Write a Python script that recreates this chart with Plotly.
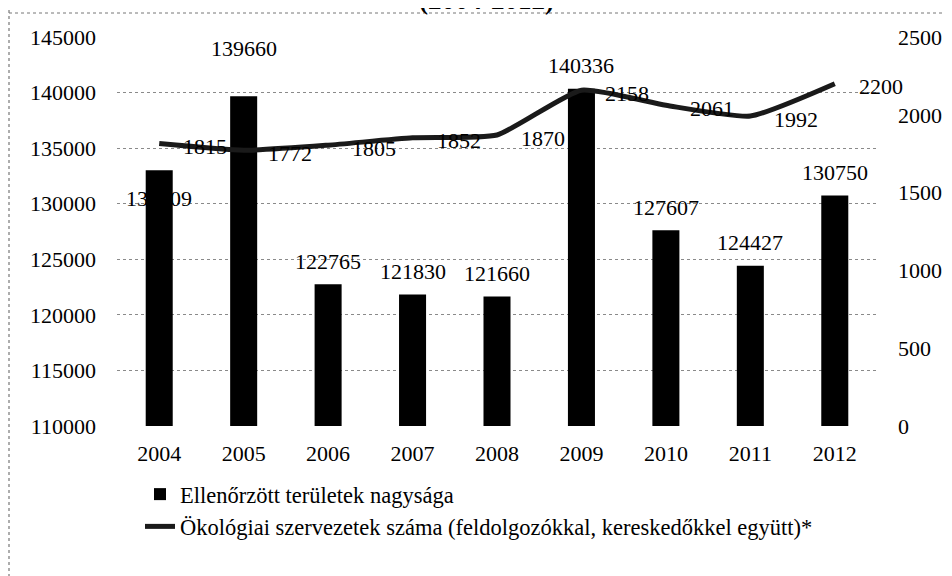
import plotly.graph_objects as go

years = ["2004", "2005", "2006", "2007", "2008", "2009", "2010", "2011", "2012"]
area_ha = [133009, 139660, 122765, 121830, 121660, 140336, 127607, 124427, 130750]
org_count = [1815, 1772, 1805, 1852, 1870, 2158, 2061, 1992, 2200]

bar_name = "Ellenőrzött területek nagysága"
line_name = "Ökológiai szervezetek száma (feldolgozókkal, kereskedőkkel együtt)*"
title_text = "(2004-2012)"

FONT = "Liberation Serif, Times New Roman, serif"
FS = 22

# figure geometry (page has an 8px body margin, so the figure is 944x568)
W, H = 944, 568
L, R, T, B = 109, 75, 29, 150
PW, PH = W - L - R, H - T - B


def pxx(x):  # figure pixel x -> paper
    return (x - L) / PW


def pxy(y):  # figure pixel y -> paper
    return (H - B - y) / PH


# pixel offsets of bar value labels (style)
bar_label_shift = {"2004": -28, "2005": 48}

fig = go.Figure()
fig.add_trace(go.Bar(
    x=years, y=area_ha, name=bar_name,
    marker=dict(color="#000000", line=dict(width=0)),
    yaxis="y",
))
fig.add_trace(go.Scatter(
    x=years, y=org_count, name=line_name, mode="lines",
    line=dict(color="#1a1a1a", width=5, shape="spline", smoothing=0.5),
    yaxis="y2",
))

annotations = []
for i, (yr, v) in enumerate(zip(years, area_ha)):
    annotations.append(dict(
        x=i, y=v, xref="x", yref="y", text=str(v), showarrow=False,
        yshift=bar_label_shift.get(yr, 23),
        font=dict(family=FONT, size=FS, color="#000"),
    ))
for i, (yr, v) in enumerate(zip(years, org_count)):
    annotations.append(dict(
        x=i, y=v, xref="x", yref="y2", text=str(v), showarrow=False,
        xshift=46, yshift=-3,
        font=dict(family=FONT, size=FS, color="#000"),
    ))
annotations.append(dict(
    x=pxx(478), y=pxy(-8), xref="paper", yref="paper",
    text="<b>" + title_text + "</b>", showarrow=False, yanchor="middle",
    font=dict(family=FONT, size=27, color="#000"),
))

shapes = [
    dict(type="line", xref="paper", yref="paper",
         x0=pxx(1), x1=pxx(1), y0=pxy(2), y1=pxy(H),
         line=dict(color="#777", width=1.2, dash="dot")),
    dict(type="line", xref="paper", yref="paper",
         x0=pxx(1), x1=pxx(W), y0=pxy(5), y1=pxy(5),
         line=dict(color="#777", width=1, dash="dot")),
]

fig.update_layout(
    width=W, height=H,
    margin=dict(l=L, r=R, t=T, b=B, autoexpand=False),
    paper_bgcolor="white", plot_bgcolor="white",
    font=dict(family=FONT, size=FS, color="#000"),
    bargap=0.68,
    showlegend=True,
    legend=dict(
        x=pxx(132), y=pxy(465), xanchor="left", yanchor="top",
        font=dict(family=FONT, size=22.5, color="#000"),
        bgcolor="rgba(0,0,0,0)", tracegroupgap=0, itemwidth=30,
    ),
    xaxis=dict(
        type="category", range=[-0.5, len(years) - 0.5], autorange=False,
        showgrid=False, showline=False, zeroline=False, automargin=False,
        ticks="", ticklabelstandoff=12,
        tickfont=dict(family=FONT, size=FS, color="#000"),
    ),
    yaxis=dict(
        range=[110000, 145000], dtick=5000, tick0=110000, tickformat="d",
        showgrid=True, gridcolor="#8a8a8a", gridwidth=1, griddash="dot",
        showline=False, zeroline=False, ticks="", ticklabelstandoff=20, automargin=False,
        tickfont=dict(family=FONT, size=FS, color="#000"),
    ),
    yaxis2=dict(
        range=[0, 2500], dtick=500, tick0=0, tickformat="d", overlaying="y", side="right",
        showgrid=False, showline=False, zeroline=False, ticks="", ticklabelstandoff=20,
        automargin=False,
        tickfont=dict(family=FONT, size=FS, color="#000"),
    ),
    annotations=annotations,
    shapes=shapes,
)

fig.write_html("out.html")
